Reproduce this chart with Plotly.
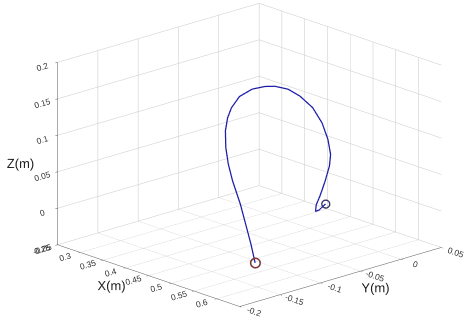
import plotly.graph_objects as go

# End-effector path (metres)
x_path = [0.590, 0.570, 0.546, 0.522, 0.496, 0.485, 0.476, 0.469, 0.464, 0.4635,
          0.460, 0.465, 0.479, 0.491, 0.512, 0.538, 0.566, 0.590, 0.603, 0.607,
          0.608, 0.596, 0.586, 0.578, 0.574, 0.573, 0.570, 0.571]
y_path = [-0.147, -0.141, -0.134, -0.127, -0.122, -0.121, -0.119, -0.1155, -0.110, -0.105,
          -0.093, -0.080, -0.072, -0.0665, -0.062, -0.062, -0.062, -0.064, -0.064, -0.063,
          -0.065, -0.064, -0.064, -0.0645, -0.063, -0.058, -0.052, -0.049]
z_path = [-0.020, 0.000, 0.020, 0.040, 0.065, 0.085, 0.105, 0.125, 0.140, 0.152,
          0.163, 0.170, 0.174, 0.175, 0.174, 0.170, 0.160, 0.145, 0.125, 0.105,
          0.090, 0.065, 0.045, 0.030, 0.020, 0.020, 0.022, 0.025]

x_ticks = [0.25, 0.3, 0.35, 0.4, 0.45, 0.5, 0.55, 0.6]
y_ticks = [-0.2, -0.15, -0.1, -0.05, 0, 0.05]
z_ticks = [-0.05, 0, 0.05, 0.1, 0.15, 0.2]

x_range = [0.25, 0.65]
y_range = [-0.2, 0.05]
z_range = [-0.05, 0.2]

fig = go.Figure()
fig.add_trace(go.Scatter3d(
    x=x_path, y=y_path, z=z_path, mode="lines",
    line=dict(color="#1c1ca8", width=2.5), hoverinfo="skip", showlegend=False))
fig.add_trace(go.Scatter3d(
    x=[x_path[0]], y=[y_path[0]], z=[z_path[0]], mode="markers",
    marker=dict(symbol="circle-open", size=6, color="#e02020", line=dict(width=2)),
    hoverinfo="skip", showlegend=False))
fig.add_trace(go.Scatter3d(
    x=[x_path[-1]], y=[y_path[-1]], z=[z_path[-1]], mode="markers",
    marker=dict(symbol="circle-open", size=5, color="#1c1ca8", line=dict(width=2)),
    hoverinfo="skip", showlegend=False))


def axis(title, rng, ticks):
    return dict(
        title=dict(text=title, font=dict(size=13, color="#222")),
        range=rng, tickvals=ticks, ticktext=[f"{t:g}" for t in ticks],
        tickfont=dict(size=10, color="#333"),
        showgrid=True, gridcolor="#c8c8c8", gridwidth=1,
        showline=True, linecolor="#555", linewidth=1,
        ticks="outside", ticklen=3, tickcolor="#555",
        zeroline=False, showbackground=False, showspikes=False,
        autorange=False)


fig.update_layout(
    width=464, height=323,
    margin=dict(l=0, r=0, t=0, b=0),
    paper_bgcolor="white",
    font=dict(family="Liberation Sans, Arial, sans-serif"),
    scene=dict(
        domain=dict(x=[0.0, 1.0], y=[0.0, 1.0]),
        xaxis=axis("X(m)", x_range, x_ticks),
        yaxis=axis("Y(m)", y_range, y_ticks),
        zaxis=axis("Z(m)", z_range, z_ticks),
        aspectmode="manual",
        aspectratio=dict(x=1.657, y=1.704, z=1.19),
        camera=dict(
            projection=dict(type="orthographic"),
            eye=dict(x=1.318, y=-1.372, z=0.588),
            up=dict(x=0, y=0, z=1),
            center=dict(x=-0.068, y=-0.084, z=-0.0405)),
    ),
)

fig.write_html("out.html")
